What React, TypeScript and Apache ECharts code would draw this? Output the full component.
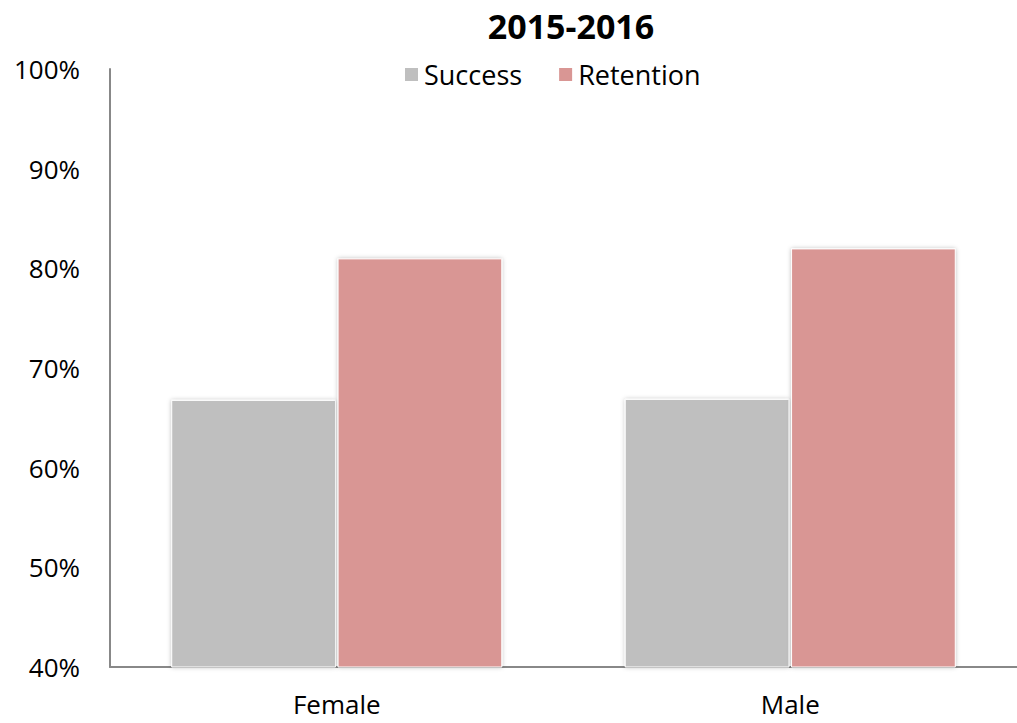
import React, { useEffect, useRef } from "react";
import * as echarts from "echarts";

const categories = ["Female", "Male"];
const successValues = [66.8, 66.9];
const retentionValues = [81.0, 82.0];
const seriesNames = ["Success", "Retention"];
const titleText = "2015-2016";

export default function App() {
  const ref = useRef<HTMLDivElement>(null);
  useEffect(() => {
    if (!ref.current) return;
    const chart = echarts.init(ref.current, null, { renderer: "svg" });
    const font = "Open Sans";
    const barStyle = (color: string) => ({
      color,
      borderColor: "#ffffff",
      borderWidth: 1,
      shadowColor: "rgba(0,0,0,0.25)",
      shadowBlur: 4,
      shadowOffsetX: 0,
      shadowOffsetY: 0,
    });
    chart.setOption({
      animation: false,
      backgroundColor: "#ffffff",
      title: {
        text: titleText,
        left: 566,
        textAlign: "center",
        top: 4,
        textStyle: { fontFamily: font, fontWeight: "bold", fontSize: 34, color: "#000" },
      },
      legend: {
        top: 56,
        left: 398,
        itemWidth: 15,
        itemHeight: 15,
        itemGap: 35,
        icon: "rect",
        data: seriesNames,
        textStyle: { fontFamily: font, fontSize: 27, color: "#000" },
      },
      grid: { left: 110, top: 69, width: 918, bottom: 56, containLabel: false },
      xAxis: {
        type: "category",
        data: categories,
        axisLine: { lineStyle: { color: "#888888", width: 2 } },
        axisTick: { show: false },
        axisLabel: { fontFamily: font, fontSize: 26, color: "#000", margin: 24 },
      },
      yAxis: {
        type: "value",
        min: 40,
        max: 100,
        interval: 10,
        axisLine: { show: true, lineStyle: { color: "#888888", width: 2 } },
        axisTick: { show: false },
        splitLine: { show: false },
        axisLabel: {
          formatter: (v: number) => v + "%",
          fontFamily: font,
          fontSize: 26,
          color: "#000",
          margin: 30,
        },
      },
      series: [
        {
          name: seriesNames[0],
          type: "bar",
          data: successValues,
          barCategoryGap: "27%",
          barGap: "1%",
          itemStyle: barStyle("#BFBFBF"),
        },
        {
          name: seriesNames[1],
          type: "bar",
          data: retentionValues,
          barCategoryGap: "27%",
          barGap: "1%",
          itemStyle: barStyle("#D99694"),
        },
      ],
    });
    return () => chart.dispose();
  }, []);
  return (
    <div
      ref={ref}
      style={{ position: "fixed", left: 0, top: 0, width: "1017px", height: "723px" }}
    />
  );
}
